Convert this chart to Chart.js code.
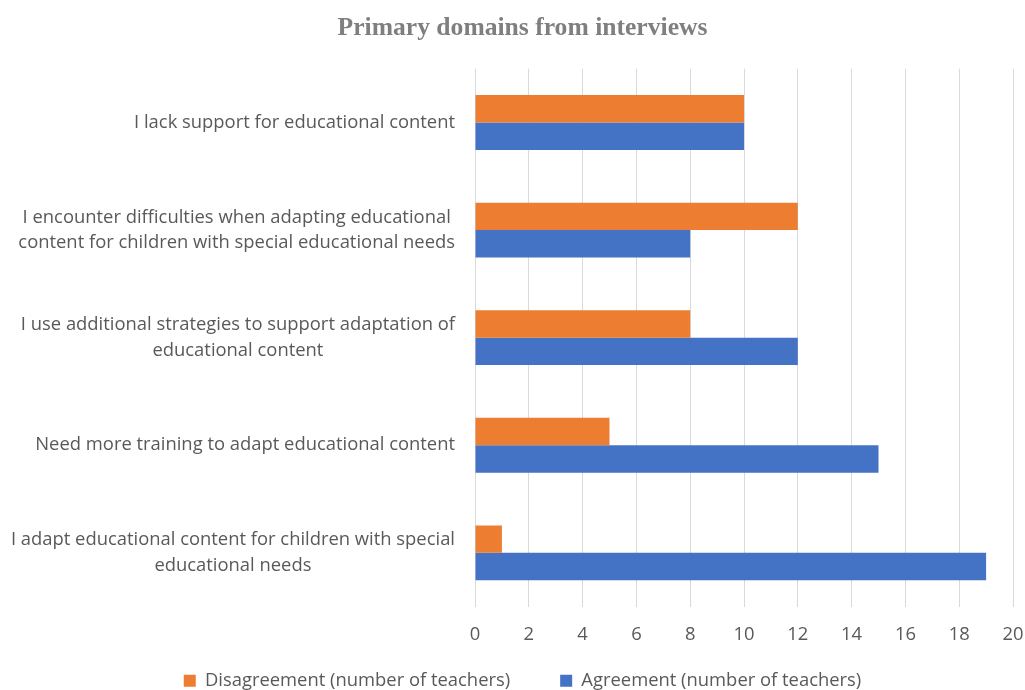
<!DOCTYPE html>
<html>
<head>
<meta charset="utf-8">
<script src="https://cdn.jsdelivr.net/npm/chart.js@4"></script>
<style>
  html, body { margin: 0; padding: 0; background: #fff; overflow: hidden; }
  #wrap { width: 1025px; height: 690px; overflow: hidden; }
</style>
</head>
<body>
<div id="wrap"><canvas id="domainsChart" width="1025" height="700"></canvas></div>
<script>
// Chart data
const categories = [
  ['I lack support for educational content'],
  ['I encounter difficulties when adapting educational', 'content for children with special educational needs'],
  ['I use additional strategies to support adaptation of', 'educational content'],
  ['Need more training to adapt educational content'],
  ['I adapt educational content for children with special', 'educational needs']
];
const disagreement = [10, 12, 8, 5, 1];
const agreement = [10, 8, 12, 15, 19];
const xTicks = [0, 2, 4, 6, 8, 10, 12, 14, 16, 18, 20];

const textGrey = '#595959';
const fontSize = 18.4;
const labelFont = fontSize + 'px "Open Sans", sans-serif';

// Axis labels drawn from the scales: category lines centred on each other,
// value labels under the grid lines
const axisLabels = {
  id: 'axisLabels',
  afterDraw(chart) {
    const y = chart.scales.y;
    const x = chart.scales.x;
    const ctx = chart.ctx;
    ctx.save();
    ctx.font = labelFont;
    ctx.fillStyle = textGrey;
    ctx.textAlign = 'center';
    ctx.textBaseline = 'middle';
    const lineH = 25.5;
    categories.forEach((lines, i) => {
      const blockW = Math.max(...lines.map(l => ctx.measureText(l).width));
      const cx = y.right - 20 - blockW / 2;
      const cy = y.getPixelForTick(i);
      lines.forEach((line, j) => {
        ctx.fillText(line, cx, cy + (j - (lines.length - 1) / 2) * lineH);
      });
    });
    xTicks.forEach(v => {
      ctx.fillText(String(v), x.getPixelForValue(v), chart.chartArea.bottom + 28);
    });
    ctx.restore();
  }
};

new Chart(document.getElementById('domainsChart'), {
  type: 'bar',
  data: {
    labels: categories.map(c => c.join(' ')),
    datasets: [{
      label: 'Disagreement (number of teachers)',
      data: disagreement,
      backgroundColor: '#ED7D31',
      categoryPercentage: 0.51,
      barPercentage: 1
    },
    {
      label: 'Agreement (number of teachers)',
      data: agreement,
      backgroundColor: '#4472C4',
      categoryPercentage: 0.51,
      barPercentage: 1
    }]
  },
  options: {
    indexAxis: 'y',
    responsive: false,
    animation: false,
    layout: { padding: { left: 32, right: 12, top: 0, bottom: 0 } },
    plugins: {
      title: {
        display: true,
        text: 'Primary domains from interviews',
        color: '#7f7f7f',
        font: { family: '"Liberation Serif", serif', size: 25.6, weight: 'bold' },
        padding: { top: 13, bottom: 25 }
      },
      legend: {
        position: 'bottom',
        labels: {
          color: textGrey,
          font: { family: '"Open Sans", sans-serif', size: fontSize },
          boxWidth: 12,
          boxHeight: 12,
          padding: 50
        }
      },
      tooltip: { enabled: false }
    },
    scales: {
      y: {
        grid: { display: false },
        border: { display: false },
        ticks: { display: false },
        afterFit(scale) { scale.width = 443; }
      },
      x: {
        min: 0,
        max: 20,
        afterBuildTicks(scale) { scale.ticks = xTicks.map(v => ({ value: v })); },
        afterFit(scale) { scale.height = 15; },
        grid: { color: '#d9d9d9', drawTicks: false },
        border: { display: false },
        ticks: { display: false }
      }
    }
  },
  plugins: [axisLabels]
});
</script>
</body>
</html>
